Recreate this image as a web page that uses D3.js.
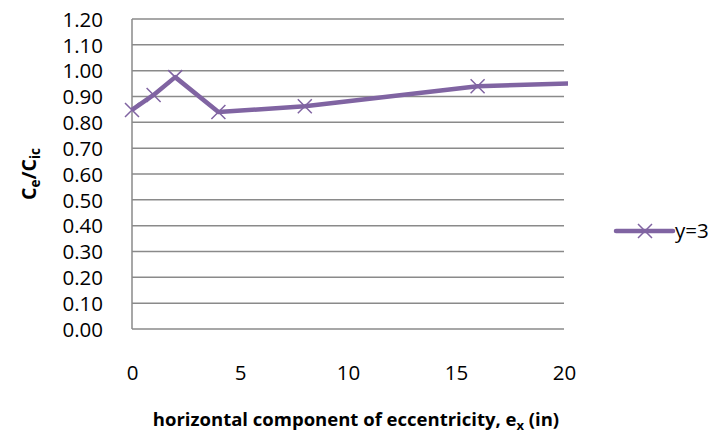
<!DOCTYPE html>
<html><head><meta charset="utf-8">
<script src="https://cdn.jsdelivr.net/npm/d3@7"></script>
<style>body{margin:0;background:#fff;} svg{display:block;}</style>
</head><body>
<script>
const xValues = [0, 1, 2, 4, 8, 16, 24];
const yValues = [0.848, 0.906, 0.975, 0.840, 0.862, 0.940, 0.960];
const seriesName = "y=3";
const xTicks = [0, 5, 10, 15, 20];
const yTicks = [0, 0.1, 0.2, 0.3, 0.4, 0.5, 0.6, 0.7, 0.8, 0.9, 1.0, 1.1, 1.2];

const W = 717, H = 441;
const L = 132, R = 564, T = 19, B = 329;
const color = "#8064A2";
const font = "'Open Sans', 'Liberation Sans', sans-serif";
const tickSize = 20.5;

const svg = d3.select("body").append("svg").attr("width", W).attr("height", H);
const x = d3.scaleLinear().domain([0, 20]).range([L, R]);
const y = d3.scaleLinear().domain([0, 1.2]).range([B, T]);

// gridlines
svg.append("g").selectAll("line").data(yTicks).join("line")
  .attr("x1", L).attr("x2", R).attr("y1", d => y(d)).attr("y2", d => y(d))
  .attr("stroke", "#8a8a8a").attr("stroke-width", 1.5);
// y axis line
svg.append("line").attr("x1", L).attr("x2", L).attr("y1", T).attr("y2", B)
  .attr("stroke", "#8a8a8a").attr("stroke-width", 1.5);

// y tick labels
const yAxis = d3.axisLeft(y).tickValues(yTicks).tickFormat(d3.format(".2f")).tickSize(0).tickPadding(0);
const gy = svg.append("g").attr("transform", `translate(${L - 29},0)`).call(yAxis);
gy.select(".domain").remove();
gy.selectAll("text").attr("font-family", font).attr("font-size", tickSize).attr("fill", "#000").attr("dy", "0.35em");

// x tick labels
const xAxis = d3.axisBottom(x).tickValues(xTicks).tickFormat(d3.format("d")).tickSize(0).tickPadding(0);
const gx = svg.append("g").attr("transform", `translate(0,${B + 44})`).call(xAxis);
gx.select(".domain").remove();
gx.selectAll("text").attr("font-family", font).attr("font-size", tickSize).attr("fill", "#000").attr("dy", "0.35em");

// clip
svg.append("clipPath").attr("id", "clip").append("rect")
  .attr("x", L - 20).attr("y", 0).attr("width", R - L + 24).attr("height", H);

const pts = xValues.map((v, i) => [v, yValues[i]]);
const g = svg.append("g").attr("clip-path", "url(#clip)");
g.append("path").datum(pts)
  .attr("d", d3.line().x(d => x(d[0])).y(d => y(d[1])))
  .attr("fill", "none").attr("stroke", color).attr("stroke-width", 4.5).attr("stroke-linejoin", "round");

const m = 7;
const mg = g.append("g");
pts.filter(d => d[0] <= 20).forEach(d => {
  const cx = x(d[0]), cy = y(d[1]);
  mg.append("path").attr("d", `M${cx - m},${cy - m}L${cx + m},${cy + m}M${cx - m},${cy + m}L${cx + m},${cy - m}`)
    .attr("stroke", color).attr("stroke-width", 1.5).attr("fill", "none");
});

// legend
const lg = svg.append("g");
lg.append("line").attr("x1", 616).attr("x2", 673).attr("y1", 231).attr("y2", 231)
  .attr("stroke", color).attr("stroke-width", 4.5).attr("stroke-linecap", "round");
lg.append("path").attr("d", `M${645 - m},${231 - m}L${645 + m},${231 + m}M${645 - m},${231 + m}L${645 + m},${231 - m}`)
  .attr("stroke", color).attr("stroke-width", 1.5);
lg.append("text").attr("x", 675).attr("y", 231).attr("dy", "0.35em").attr("font-family", font)
  .attr("font-size", tickSize).text(seriesName);

// x title
const xt = svg.append("text").attr("x", 356).attr("y", 426).attr("text-anchor", "middle")
  .attr("font-family", font).attr("font-size", 18.5).attr("font-weight", "bold");
xt.append("tspan").text("horizontal component of eccentricity, e");
xt.append("tspan").attr("font-size", 13).attr("dy", 4).text("x");
xt.append("tspan").attr("dy", -4).text(" (in)");

// y title
const yt = svg.append("text").attr("transform", `translate(36,${(T + B) / 2}) rotate(-90)`).attr("text-anchor", "middle")
  .attr("font-family", font).attr("font-size", 19.5).attr("font-weight", "bold");
yt.append("tspan").text("C");
yt.append("tspan").attr("font-size", 13.5).attr("dy", 4).text("e");
yt.append("tspan").attr("dy", -4).text("/C");
yt.append("tspan").attr("font-size", 13.5).attr("dy", 4).text("ic");
</script>
</body></html>
